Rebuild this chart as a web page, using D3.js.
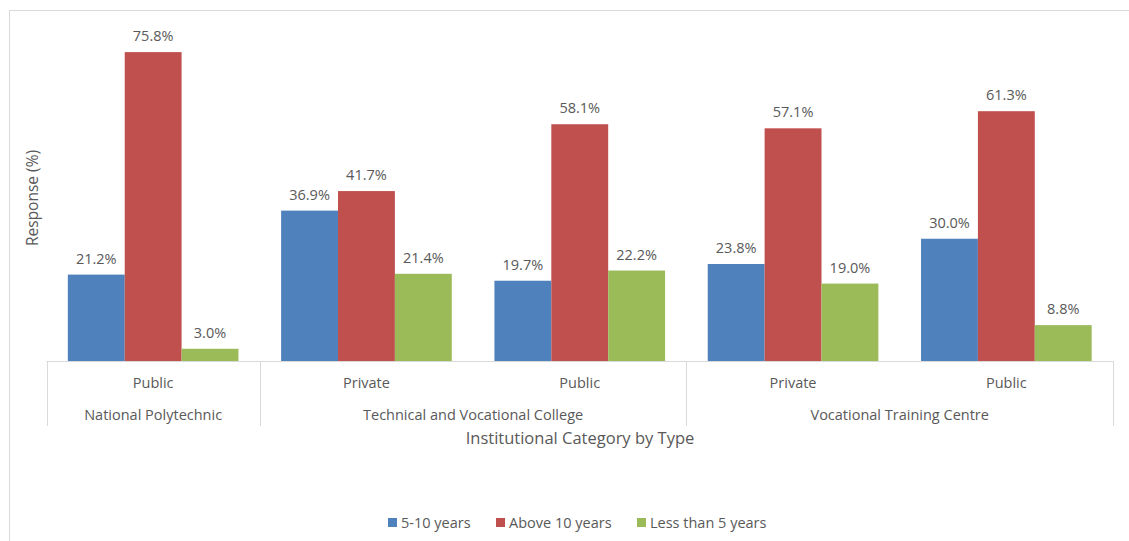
<!DOCTYPE html>
<html>
<head>
<meta charset="utf-8">
<script src="https://cdn.jsdelivr.net/npm/d3@7"></script>
<style>
    body { margin: 0; background: #fff; }
    svg text { font-family: "Open Sans", "Noto Sans", sans-serif; fill: #595959; }
</style>
</head>
<body>
<div class="chart"></div>
<script>
const groups = ["National Polytechnic", "Technical and Vocational College", "Technical and Vocational College", "Vocational Training Centre", "Vocational Training Centre"];
const types = ["Public", "Private", "Public", "Private", "Public"];
const seriesNames = ["5-10 years", "Above 10 years", "Less than 5 years"];
const fiveToTen = [21.2, 36.9, 19.7, 23.8, 30.0];
const aboveTen = [75.8, 41.7, 58.1, 57.1, 61.3];
const lessThanFive = [3.0, 21.4, 22.2, 19.0, 8.8];
const colors = ["#4F81BD", "#C0504D", "#9BBB59"];

const width = 1129, height = 541;
const plot = { left: 46.5, right: 1113, top: 35, bottom: 361 };

const svg = d3.select(".chart").append("svg")
    .attr("width", width).attr("height", height);

// outer chart border
svg.append("rect")
    .attr("x", 9.5).attr("y", 10.5)
    .attr("width", 1140).attr("height", 560)
    .attr("fill", "none").attr("stroke", "#D9D9D9");

const keys = d3.range(types.length);
const x = d3.scaleBand().domain(keys).range([plot.left, plot.right]).paddingInner(0).paddingOuter(0);
// gap width 75% -> half a gap on each side of the cluster
const xInner = d3.scaleBand().domain(d3.range(seriesNames.length))
    .range([0, x.bandwidth()]).paddingInner(0).paddingOuter(0.375);
const y = d3.scaleLinear().domain([0, 80]).range([plot.bottom, plot.top]);

const series = [fiveToTen, aboveTen, lessThanFive];

const g = svg.append("g");
series.forEach((vals, s) => {
    g.selectAll(".bar-" + s)
        .data(vals)
        .enter().append("rect")
        .attr("x", (d, i) => x(i) + xInner(s))
        .attr("y", d => y(d))
        .attr("width", xInner.bandwidth())
        .attr("height", d => plot.bottom - y(d))
        .attr("fill", colors[s]);

    g.selectAll(".label-" + s)
        .data(vals)
        .enter().append("text")
        .attr("x", (d, i) => x(i) + xInner(s) + xInner.bandwidth() / 2)
        .attr("y", d => y(d) - 11)
        .attr("text-anchor", "middle")
        .style("font-size", "14.5px")
        .text(d => d.toFixed(1) + "%");
});

// category axis (two levels)
const axis = svg.append("g").attr("stroke", "#D9D9D9").attr("fill", "none");
const axisBottom = 426;
axis.append("line")
    .attr("x1", plot.left).attr("x2", plot.right)
    .attr("y1", plot.bottom + 0.5).attr("y2", plot.bottom + 0.5);

// group spans
const spans = [];
groups.forEach((name, i) => {
    const last = spans[spans.length - 1];
    if (last && last.name === name) last.end = i;
    else spans.push({ name: name, start: i, end: i });
});

const edges = [plot.left].concat(spans.map(sp => x(sp.end) + x.bandwidth()));
axis.selectAll(".sep")
    .data(edges)
    .enter().append("line")
    .attr("x1", d => Math.round(d) + 0.5).attr("x2", d => Math.round(d) + 0.5)
    .attr("y1", plot.bottom).attr("y2", axisBottom);

svg.selectAll(".type-label")
    .data(types)
    .enter().append("text")
    .attr("x", (d, i) => x(i) + x.bandwidth() / 2)
    .attr("y", 388)
    .attr("text-anchor", "middle")
    .style("font-size", "14.5px")
    .text(d => d);

svg.selectAll(".group-label")
    .data(spans)
    .enter().append("text")
    .attr("x", d => (x(d.start) + x(d.end) + x.bandwidth()) / 2)
    .attr("y", 420)
    .attr("text-anchor", "middle")
    .style("font-size", "14.5px")
    .text(d => d.name);

// axis titles
svg.append("text")
    .attr("x", 580).attr("y", 444)
    .attr("text-anchor", "middle")
    .style("font-size", "16.5px")
    .text("Institutional Category by Type");

svg.append("text")
    .attr("transform", "translate(38,198) rotate(-90)")
    .attr("text-anchor", "middle")
    .style("font-size", "15.5px")
    .text("Response (%)");

// legend
const legendX = [388, 496, 637];
const legend = svg.selectAll(".legend")
    .data(seriesNames)
    .enter().append("g")
    .attr("transform", (d, i) => "translate(" + legendX[i] + ",518)");
legend.append("rect")
    .attr("width", 9).attr("height", 9)
    .attr("fill", (d, i) => colors[i]);
legend.append("text")
    .attr("x", 13).attr("y", 9.5)
    .style("font-size", "14.5px")
    .text(d => d);
</script>
</body>
</html>
